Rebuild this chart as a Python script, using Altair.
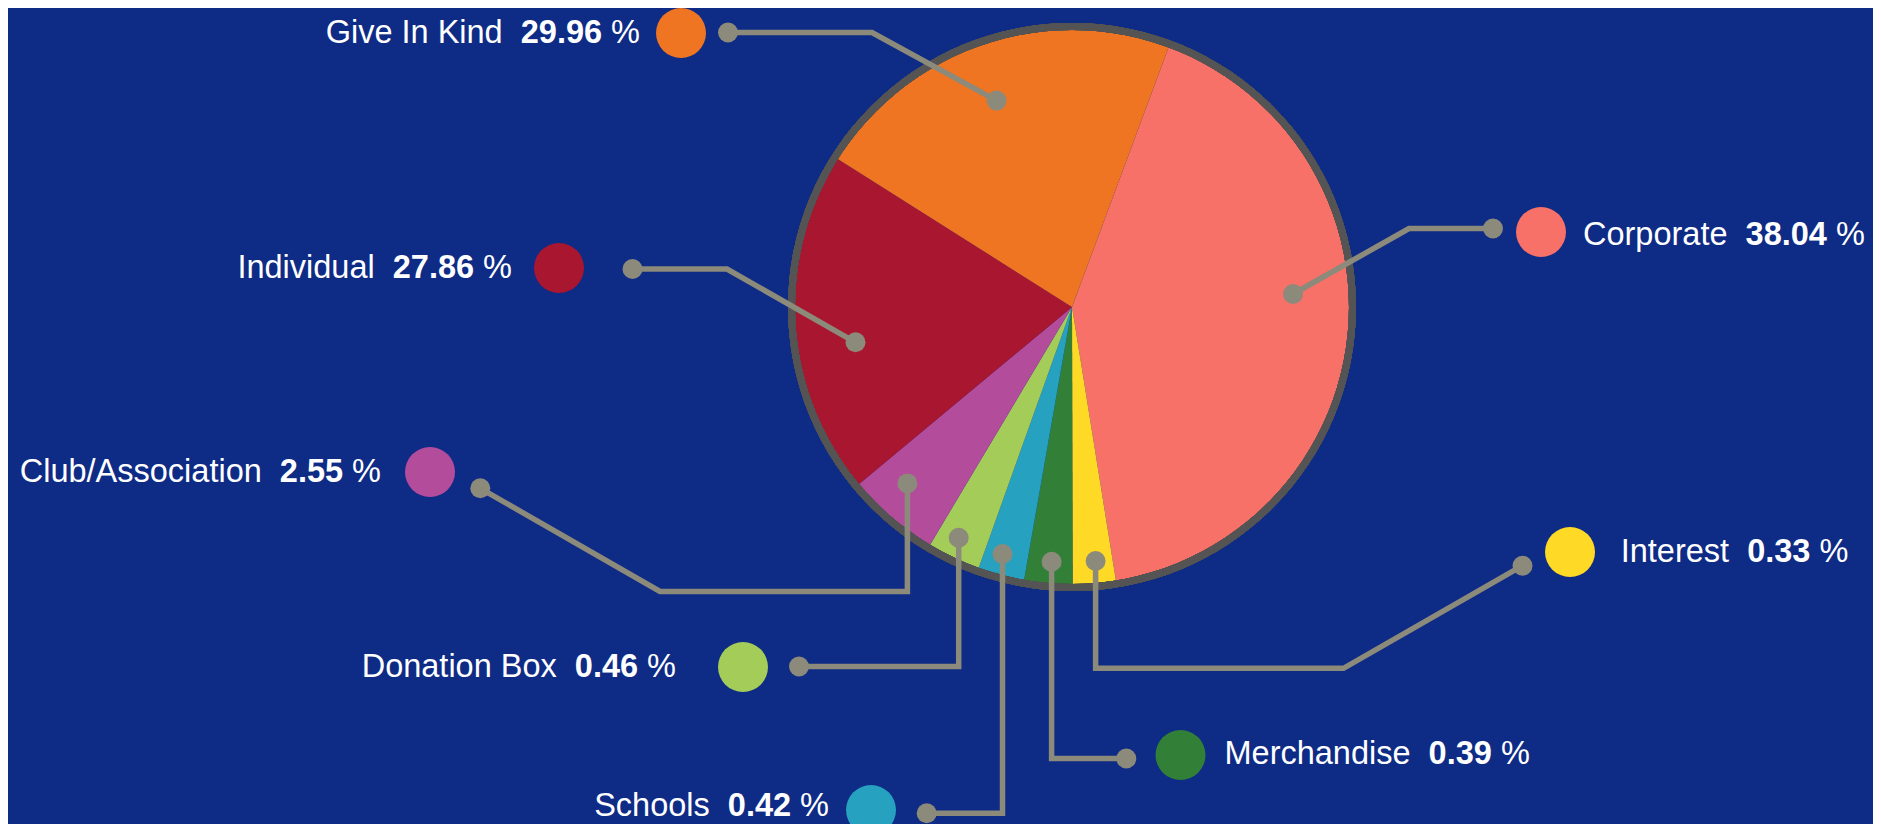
import math
import altair as alt
import pandas as pd

# ---------------- data ----------------
categories = ["Corporate", "Interest", "Merchandise", "Schools",
              "Donation Box", "Club/Association", "Individual", "Give In Kind"]
# percentages printed in the labels
label_pct = [38.04, 0.33, 0.39, 0.42, 0.46, 2.55, 27.86, 29.96]
# slice sizes as they are drawn in the picture (share of the full turn, %)
drawn_share = [41.8, 2.5, 2.8, 2.7, 3.1, 5.4, 20.0, 21.7]
colors = ["#f77168", "#fed925", "#327f38", "#26a1c0",
          "#a4cc58", "#b44c9c", "#a9162f", "#f07522"]

# ---------------- layout / style ----------------
W, H = 1865, 816          # chart size (page has an 8px margin)
OFF = 8                   # page offset of the chart
BG = "#0e2b85"
LINE = "#8c8a7a"
RING = "#545454"
PIE_CX, PIE_CY, PIE_R = 1072, 307, 278
START_DEG = 20.4          # first slice boundary, clockwise from 12 o'clock
FS = 32.5
FONT = "Liberation Sans"

layout = {
    "Give In Kind":     dict(cx=681, cy=33, side="left", tx=640, ty=43,
                             path=[(996.6, 100.6), (872, 32.5), (728, 32.5)]),
    "Corporate":        dict(cx=1541, cy=232, side="right", tx=1583, ty=245,
                             path=[(1293, 294), (1409, 228.5), (1493, 228.5)]),
    "Individual":       dict(cx=559, cy=268, side="left", tx=512, ty=278,
                             path=[(855.5, 342.3), (727, 269), (632.5, 269)]),
    "Club/Association": dict(cx=430, cy=472, side="left", tx=381, ty=482,
                             path=[(907.4, 483.4), (907.4, 591.5), (660, 591.5), (480.3, 488.3)]),
    "Donation Box":     dict(cx=743, cy=667, side="left", tx=676, ty=677,
                             path=[(958.7, 537.7), (958.7, 666.5), (799, 666.5)]),
    "Schools":          dict(cx=871, cy=810, side="left", tx=829, ty=816,
                             path=[(1002.5, 554), (1002.5, 813.3), (926.7, 813.3)]),
    "Merchandise":      dict(cx=1180.5, cy=755, side="right", tx=1224.5, ty=764,
                             path=[(1051.6, 561.8), (1051.6, 758.5), (1126.3, 758.5)]),
    "Interest":         dict(cx=1570, cy=552, side="right", tx=1620.7, ty=562,
                             path=[(1095.6, 561), (1095.6, 668.3), (1343.5, 668.3), (1522.5, 565.7)]),
}

# Arial / Liberation Sans advance widths (1/1000 em)
ADV = {' ': 278, '%': 889, '/': 278, '.': 278,
       'A': 667, 'B': 667, 'C': 722, 'D': 722, 'G': 778, 'I': 278, 'K': 667,
       'M': 833, 'S': 667,
       'a': 556, 'b': 556, 'c': 500, 'd': 556, 'e': 556, 'h': 556, 'i': 222,
       'l': 222, 'n': 556, 'o': 556, 'p': 556, 'r': 333, 's': 500, 't': 278,
       'u': 556, 'v': 500, 'x': 500}


def tw(s):
    return sum(556 if ch.isdigit() else ADV.get(ch, 556) for ch in s) / 1000 * FS


# ---------------- tables ----------------
slices = pd.DataFrame({"name": categories, "drawn": drawn_share,
                       "pct": label_pct, "order": list(range(len(categories)))})

line_rows, dot_rows, circle_rows, reg_rows, bold_rows = [], [], [], [], []
for name, pct in zip(categories, label_pct):
    L = layout[name]
    for i, (px, py) in enumerate(L["path"]):
        line_rows.append({"name": name, "seq": i, "x": px, "y": py})
    for px, py in (L["path"][0], L["path"][-1]):
        dot_rows.append({"name": name, "x": px, "y": py})
    circle_rows.append({"name": name, "x": L["cx"], "y": L["cy"]})
    num = f"{pct:.2f}"
    if L["side"] == "left":
        pct_x = L["tx"] - tw("%")
        num_x = pct_x - tw(" ") - tw(num)
        name_x = num_x - tw("  ") - tw(name)
    else:
        name_x = L["tx"]
        num_x = name_x + tw(name) + tw("  ")
        pct_x = num_x + tw(num) + tw(" ")
    reg_rows.append({"t": name, "x": name_x, "y": L["ty"]})
    reg_rows.append({"t": "%", "x": pct_x, "y": L["ty"]})
    bold_rows.append({"t": num, "x": num_x, "y": L["ty"]})

xs = alt.Scale(domain=[OFF, OFF + W], nice=False, zero=False)
ys = alt.Scale(domain=[OFF, OFF + H], nice=False, zero=False, reverse=True)
cs = alt.Scale(domain=categories, range=colors)


def X(f="x"):
    return alt.X(f"{f}:Q", scale=xs, axis=None)


def Y(f="y"):
    return alt.Y(f"{f}:Q", scale=ys, axis=None)


a0 = math.radians(START_DEG)
pie = alt.Chart(slices).mark_arc(outerRadius=PIE_R, stroke=None).encode(
    theta=alt.Theta("drawn:Q", stack=True,
                    scale=alt.Scale(range=[a0, a0 + 2 * math.pi])),
    color=alt.Color("name:N", scale=cs, legend=None),
    order=alt.Order("order:Q"),
    x=alt.X(datum=PIE_CX, scale=xs, axis=None),
    y=alt.Y(datum=PIE_CY, scale=ys, axis=None),
)

ring = alt.Chart(slices).mark_arc(innerRadius=PIE_R - 1, outerRadius=PIE_R + 6,
                                  theta=0, theta2=2 * math.pi, color=RING).encode(
    x=alt.X(datum=PIE_CX, scale=xs, axis=None),
    y=alt.Y(datum=PIE_CY, scale=ys, axis=None),
)

lines = alt.Chart(pd.DataFrame(line_rows)).mark_line(
    color=LINE, strokeWidth=5.5, strokeJoin="miter", strokeCap="butt").encode(
    x=X(), y=Y(), detail="name:N", order="seq:Q")

dots = alt.Chart(pd.DataFrame(dot_rows)).mark_point(
    shape="circle", filled=True, size=400, color=LINE, opacity=1, strokeWidth=0).encode(
    x=X(), y=Y())

circles = alt.Chart(pd.DataFrame(circle_rows)).mark_point(
    shape="circle", filled=True, size=2500, opacity=1, strokeWidth=0).encode(
    x=X(), y=Y(), color=alt.Color("name:N", scale=cs, legend=None))

reg_text = alt.Chart(pd.DataFrame(reg_rows)).mark_text(
    font=FONT, fontSize=FS, color="white", align="left", baseline="alphabetic").encode(
    x=X(), y=Y(), text="t:N")

bold_text = alt.Chart(pd.DataFrame(bold_rows)).mark_text(
    font=FONT, fontSize=FS, fontWeight="bold", color="white", align="left",
    baseline="alphabetic").encode(x=X(), y=Y(), text="t:N")

chart = alt.layer(pie, ring, lines, dots, circles, reg_text, bold_text).properties(
    width=W, height=H, padding=0, background=BG,
    autosize=alt.AutoSizeParams(type="none"),
    # page background in the same navy, so the 8px page margin matches
    usermeta={"embedOptions": {"defaultStyle": "body { background: %s; }" % BG}},
).configure_view(stroke=None)

chart.save("out.html", embed_options={"renderer": "svg", "actions": False})
